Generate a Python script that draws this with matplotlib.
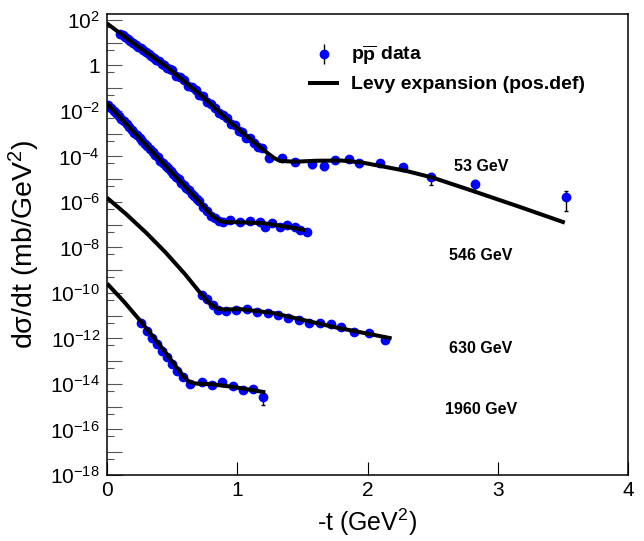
import numpy as np
import matplotlib
matplotlib.use('Agg')
from matplotlib import pyplot as plt
from matplotlib.lines import Line2D
from matplotlib.ticker import FixedLocator, FixedFormatter, NullFormatter

plt.rcParams['font.family'] = ['Liberation Sans', 'DejaVu Sans']
plt.rcParams['mathtext.fontset'] = 'custom'
plt.rcParams['mathtext.rm'] = 'Liberation Sans'
plt.rcParams['mathtext.it'] = 'Liberation Sans:italic'
plt.rcParams['mathtext.bf'] = 'Liberation Sans:bold'

# values; y given as log10(dsigma/dt) incl. plot offsets

# 53 GeV
t53 = [0.10, 0.12, 0.14, 0.16, 0.18, 0.20, 0.22, 0.24, 0.26, 0.28, 0.30, 0.32,
       0.34, 0.36, 0.38, 0.40, 0.42, 0.44, 0.46, 0.48, 0.50, 0.53, 0.56, 0.59,
       0.62, 0.65, 0.68, 0.71, 0.74, 0.77, 0.80, 0.83, 0.86, 0.89, 0.92, 0.95,
       0.98, 1.01, 1.04, 1.07, 1.10, 1.13, 1.16, 1.19,
       1.245, 1.345, 1.445, 1.575, 1.667, 1.751, 1.858, 1.935, 2.096, 2.272,
       2.487, 2.825, 3.521]
lg53 = [1.40, 1.33, 1.24, 1.15, 1.06, 0.97, 0.91, 0.80, 0.75, 0.66, 0.60, 0.50,
        0.40, 0.34, 0.22, 0.18, 0.06, 0.01, -0.12, -0.16, -0.22, -0.47, -0.52, -0.65,
        -0.90, -0.95, -1.10, -1.28, -1.36, -1.62, -1.70, -1.85, -2.10, -2.17, -2.32, -2.58,
        -2.62, -2.88, -2.92, -3.18, -3.20, -3.42, -3.60, -3.64,
        -4.07, -4.07, -4.24, -4.33, -4.42, -4.15, -4.11, -4.29, -4.29, -4.46,
        -4.90, -5.21, -5.78]
err53 = [0.03] * 44 + [0.10, 0.15, 0.30, 0.35, 0.30, 0.25, 0.15, 0.35, 0.10,
                       0.10, 0.55, 0.55, 0.75]

# 546 GeV
t546 = [0.01, 0.03, 0.05, 0.07, 0.09, 0.11, 0.13, 0.15, 0.17, 0.19, 0.21, 0.23,
        0.25, 0.27, 0.29, 0.31, 0.33, 0.35, 0.37, 0.39, 0.41, 0.43, 0.45, 0.47,
        0.49, 0.51, 0.53, 0.55, 0.57, 0.59, 0.61, 0.63, 0.65, 0.67, 0.69, 0.71,
        0.74, 0.77, 0.80, 0.83, 0.86,
        0.893, 0.946, 1.023, 1.100, 1.176, 1.215, 1.268, 1.330, 1.383, 1.444,
        1.483, 1.536]
lg546 = [-1.74, -1.85, -1.99, -2.10, -2.21, -2.35, -2.46, -2.57, -2.72, -2.82, -2.96, -3.06,
         -3.20, -3.30, -3.45, -3.55, -3.69, -3.79, -3.93, -4.03, -4.18, -4.28, -4.42, -4.52,
         -4.66, -4.76, -4.91, -5.01, -5.15, -5.25, -5.39, -5.49, -5.64, -5.74, -5.88, -5.98,
         -6.22, -6.38, -6.60, -6.72, -6.85,
         -6.88, -6.79, -6.88, -6.84, -6.88, -7.10, -6.92, -7.10, -7.01, -7.10,
         -7.23, -7.32]
err546 = [0.03] * len(t546)

# 630 GeV
t630 = [0.732, 0.770, 0.816, 0.854, 0.916, 0.992, 1.077, 1.153, 1.238, 1.314,
        1.391, 1.475, 1.552, 1.636, 1.720, 1.797, 1.897, 2.011, 2.134]
lg630 = [-10.09, -10.26, -10.53, -10.75, -10.79, -10.75, -10.70, -10.84, -10.88, -10.97,
         -11.10, -11.19, -11.32, -11.32, -11.36, -11.49, -11.71, -11.76, -12.07]
err630 = [0.05] * len(t630)

# 1960 GeV
t1960 = [0.264, 0.310, 0.349, 0.387, 0.425, 0.464, 0.502, 0.540, 0.586, 0.640,
         0.732, 0.808, 0.885, 0.969, 1.046, 1.123, 1.199]
lg1960 = [-11.32, -11.67, -11.98, -12.24, -12.55, -12.81, -13.12, -13.43, -13.69, -14.00,
          -13.91, -14.04, -13.91, -14.09, -14.26, -14.22, -14.57]
err1960 = [0.05] * 16 + [0.55]

# Levy expansion curves (read at a few t values)
tc53 = [0.01, 0.20, 0.46, 0.72, 0.97, 1.18, 1.28, 1.33, 1.45, 1.60, 1.80, 1.95,
        2.10, 2.30, 2.50, 2.80, 3.17, 3.50]
lc53 = [1.80, 0.99, -0.07, -1.30, -2.62, -3.62, -4.06, -4.20, -4.23, -4.19, -4.18, -4.26,
        -4.42, -4.64, -4.93, -5.50, -6.22, -6.88]
tc546 = [0.011, 0.72, 0.77, 0.82, 0.86, 0.90, 1.00, 1.20, 1.43, 1.506]
lc546 = [-1.74, -6.06, -6.40, -6.66, -6.82, -6.88, -6.89, -6.93, -7.14, -7.23]
tc630 = [0.011, 0.15, 0.30, 0.45, 0.60, 0.716, 0.78, 0.847, 0.90, 1.023, 1.276, 1.736, 2.17]
lc630 = [-5.87, -6.55, -7.35, -8.22, -9.18, -10.00, -10.42, -10.68, -10.73, -10.71, -10.88,
         -11.49, -11.98]
tc1960 = [0.011, 0.13, 0.264, 0.42, 0.586, 0.63, 0.68, 0.80, 0.969, 1.20]
lc1960 = [-9.65, -10.38, -11.28, -12.40, -13.66, -13.90, -13.98, -14.01, -14.13, -14.35]

energies = ['53 GeV', '546 GeV', '630 GeV', '1960 GeV']
label_t = [2.87, 2.87, 2.87, 2.87]
label_lg = [-4.46, -8.36, -12.42, -15.12]

fig = plt.figure(figsize=(6.44, 5.41), dpi=100)
ax = fig.add_axes([107 / 644, 1 - 475 / 541, 521 / 644, 461 / 541])

data = [(t53, lg53, err53), (t546, lg546, err546), (t630, lg630, err630), (t1960, lg1960, err1960)]
for t, lg, er in data:
    y = 10.0 ** np.array(lg)
    ax.errorbar(t, y, yerr=np.array(er) * y, fmt='o', color='blue', ms=6, mec='blue',
                ecolor='black', elinewidth=1, capsize=1.2, zorder=2)

curves = [(tc53, lc53), (tc546, lc546), (tc630, lc630), (tc1960, lc1960)]
for tc, lc in curves:
    ax.plot(tc, 10.0 ** np.array(lc), color='black', lw=2.9, solid_joinstyle='round', zorder=3)

for name, xt, yl in zip(energies, label_t, label_lg):
    ax.text(xt, 10.0 ** yl, name, ha='center', va='center', fontsize=11.5, fontweight='bold')

ax.set_yscale('log')
ax.set_xlim(0, 4)
ax.set_ylim(1e-18, 10 ** 2.26)

major = [10.0 ** k for k in range(-18, 3)]
labels = []
for k in range(-18, 3):
    if k % 2:
        labels.append('')
    elif k == 0:
        labels.append('1')
    else:
        labels.append('$10^{%d}$' % k)
ax.yaxis.set_major_locator(FixedLocator(major))
ax.yaxis.set_major_formatter(FixedFormatter(labels))
ax.yaxis.set_minor_locator(FixedLocator([0.5 * 10.0 ** k for k in range(-17, 3)]))
ax.yaxis.set_minor_formatter(NullFormatter())
ax.tick_params(axis='y', which='major', direction='in', length=10.8, width=0.8,
               color='#555555', labelsize=15, pad=5)
ax.tick_params(axis='y', which='minor', direction='in', length=5, width=0.8, color='#555555')
ax.set_xticks([0, 1, 2, 3, 4])
ax.set_xticklabels(['0', '1', '2', '3', '4'])
ax.tick_params(axis='x', direction='in', length=9.4, width=0.8, labelsize=15, pad=4)
for s in ax.spines.values():
    s.set_linewidth(1.1)

ax.set_xlabel('-t (GeV$^2$)', fontsize=18)
ax.set_ylabel('d\u03c3/dt (mb/GeV$^2$)', fontsize=20.5)
ax.xaxis.set_label_coords(0.5, -0.069)
ax.yaxis.set_label_coords(-0.125, 0.5)

h_data = ax.errorbar([], [], yerr=[], fmt='o', color='blue', ms=6, ecolor='black', elinewidth=1)
h_line = Line2D([], [], color='black', lw=2.9)
ax.legend([h_data, h_line], [r'$\mathbf{p\overline{p}}$ data', 'Levy expansion (pos.def)'],
          loc='upper left', bbox_to_anchor=(0.39, 0.936), frameon=False,
          prop={'family': 'Liberation Sans', 'weight': 'bold', 'size': 14},
          handlelength=1.4, handletextpad=0.7, labelspacing=0.45, borderpad=0, borderaxespad=0)

fig.savefig('out.png', dpi=100)
